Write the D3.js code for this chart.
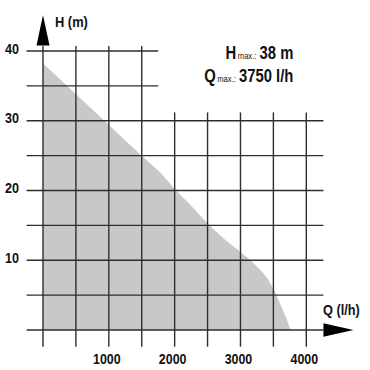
<!DOCTYPE html>
<html>
<head>
<meta charset="utf-8">
<script src="https://cdn.jsdelivr.net/npm/d3@7"></script>
<style>
  html, body { margin: 0; padding: 0; background: #fff; }
  text { font-family: "Liberation Sans", Arial, sans-serif; font-weight: bold; fill: #111; }
</style>
</head>
<body>
<div id="chart"></div>
<script>
// Pump curve: flow Q (l/h) vs head H (m)
const flowValues = [0, 500, 1000, 1500, 1800, 2000, 2250, 2500, 2750, 3000, 3150, 3300, 3400, 3500, 3600, 3700, 3760];
const headValues = [38.2, 33.8, 29.4, 25.0, 22.4, 20.2, 17.8, 15.3, 13.1, 11.2, 10.0, 8.6, 7.5, 5.9, 3.8, 1.6, 0];

const xTickLabels = [1000, 2000, 3000, 4000];
const yTickLabels = [10, 20, 30, 40];
const xGridValues = [0, 500, 1000, 1500, 2000, 2500, 3000, 3500, 4000];
const yGridValues = [0, 5, 10, 15, 20, 25, 30, 35, 40];

const W = 370, H = 370;
const svg = d3.select('#chart').append('svg')
  .attr('width', W)
  .attr('height', H);

const x = d3.scaleLinear().domain([0, 4000]).range([43, 306.3]);
const y = d3.scaleLinear().domain([0, 40]).range([330, 51]);

// condensed-looking text: squeeze horizontally
function addText(px, py, str, size, sx, anchor) {
  const g = svg.append('g').attr('transform', `translate(${px},${py}) scale(${sx},1)`);
  return g.append('text')
    .attr('text-anchor', anchor || 'start')
    .attr('font-size', size)
    .text(str);
}

// Filled area under curve
const points = flowValues.map((q, i) => ({ q, h: headValues[i] }));
const area = d3.area()
  .x(d => x(d.q))
  .y0(y(0))
  .y1(d => y(d.h))
  .curve(d3.curveMonotoneX);

svg.append('path')
  .datum(points)
  .attr('d', area)
  .attr('fill', '#c8c8c8');

const lineColor = '#2e2e2e';
const grid = svg.append('g').attr('stroke', lineColor).attr('stroke-width', 1.4);

// horizontal grid lines (upper ones stop short, leaving room for the title)
grid.selectAll('line.h')
  .data(yGridValues)
  .enter().append('line')
  .attr('class', 'h')
  .attr('x1', x(-250))
  .attr('x2', d => d > 30 ? x(1750) : x(4260))
  .attr('y1', d => y(d))
  .attr('y2', d => y(d));

// vertical grid lines
grid.selectAll('line.v')
  .data(xGridValues)
  .enter().append('line')
  .attr('class', 'v')
  .attr('x1', d => x(d))
  .attr('x2', d => x(d))
  .attr('y1', d => d < 2000 ? y(40.7) : y(31.2))
  .attr('y2', y(-2.4));

// arrow heads
svg.append('path')
  .attr('d', `M${x(0)},15 L${x(0) - 6.5},${y(40.8)} L${x(0) + 6.5},${y(40.8)} Z`)
  .attr('fill', '#000');
svg.append('path')
  .attr('d', `M${x(4260)},${y(0) - 6.7} L${x(4260) + 30},${y(0)} L${x(4260)},${y(0) + 6.7} Z`)
  .attr('fill', '#000');

// tick labels
yTickLabels.forEach(v => addText(19, y(v) + 2.5, v, 14, 0.9, 'end'));
xTickLabels.forEach(v => addText(x(v) - 2, 363.5, v, 15.5, 0.8, 'middle'));

// axis titles
addText(55, 26.5, 'H (m)', 14, 0.92);
addText(323, 315, 'Q (l/h)', 14, 0.91);

// max values
const maxLines = [
  { sym: 'H', val: '38 m', yPos: 59.3 },
  { sym: 'Q', val: '3750 l/h', yPos: 81.7 }
];
maxLines.forEach(m => {
  const t = addText(293.3, m.yPos, null, 18.5, 0.8, 'end');
  t.append('tspan').text(m.sym);
  t.append('tspan').attr('dx', 2).attr('font-size', 9.5).style('font-weight', 'normal').text('max.:');
  t.append('tspan').attr('dx', 4).text(m.val);
});
</script>
</body>
</html>
